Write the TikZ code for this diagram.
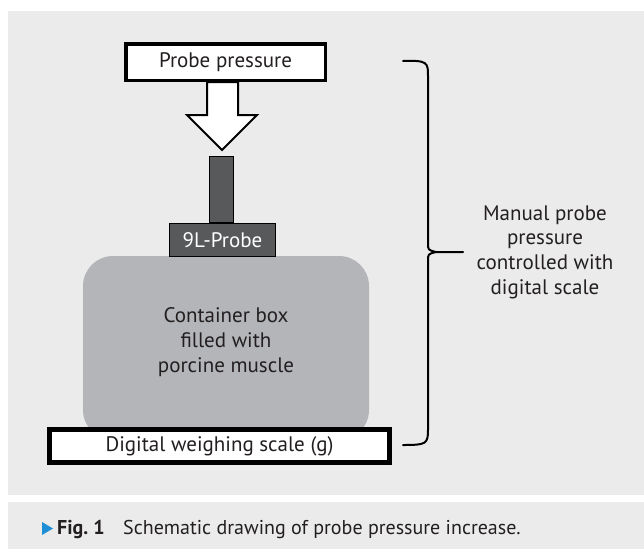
\documentclass[tikz,border=0pt]{standalone}
\usepackage{fontspec}
\setmainfont{PT Sans}
\definecolor{panel}{HTML}{EBEBEB}
\definecolor{cont}{HTML}{B3B5B8}
\definecolor{probecol}{HTML}{58595B}
\definecolor{txt}{HTML}{231F20}
\definecolor{capblue}{HTML}{1E8FD5}
\begin{document}
\begin{tikzpicture}[x=1pt,y=-1pt,
  every node/.style={font=\fontsize{21}{24.7}\selectfont, text=txt, inner sep=0pt},
  whitebox/.style={draw=black, fill=white},
  probebox/.style={draw=black, line width=1pt, fill=probecol},
  brace/.style={draw=black, line width=2pt, line cap=round, line join=round},
  bigarrow/.style={draw=black, fill=white, line width=2pt, line join=miter},
  captext/.style={anchor=base west, font=\fontsize{20}{24}\selectfont}
]
\useasboundingbox (0,0) rectangle (644,549);
\fill[white] (0,0) rectangle (644,549);
\fill[panel] (8,11) rectangle (644,495);
\fill[panel] (8,502) rectangle (644,549);

% container box
\node[rectangle, rounded corners=30pt, fill=cont, minimum width=286pt, minimum height=184pt] (box) at (226,348) {};
\node[align=center] (boxtext) at (226,342) {Container box\\filled with\\porcine muscle};

% scale
\node[whitebox, line width=5pt, minimum width=340pt, minimum height=33pt] (scale) at (219.5,446) {Digital weighing scale (g)};

% probe
\node[probebox, minimum width=24pt, minimum height=66pt] (stick) at (221.5,189.5) {};
\node[probebox, minimum width=106pt, minimum height=33pt, text=white] (head) at (222.5,240) {9L-Probe};

% arrow
\path[bigarrow] (207,82) -- (207,115) -- (187,115) -- (222,150) -- (257,115) -- (238,115) -- (238,82) -- cycle;

% probe pressure box
\node[whitebox, line width=3.5pt, minimum width=199.5pt, minimum height=36.5pt] (pp) at (225.5,62) {Probe pressure};

% brace
\coordinate (btop) at (403,61);
\coordinate (btip) at (463,252);
\coordinate (bbot) at (403,445);
\path[brace] (btop) .. controls (428,60) and (428,63) .. (428,76) -- (428,243)
  .. controls (428,250) .. (436,252) -- (btip);
\path[brace] (436,252) .. controls (428,254) .. (428,261) -- (428,430)
  .. controls (428,444) and (426,445) .. (bbot);
\node[align=center] (manual) at (545,252) {Manual probe\\pressure\\controlled with\\digital scale};

% caption
\fill[capblue] (42,522) -- (53,528.5) -- (42,535) -- cycle;
\node[captext, font=\fontsize{20}{24}\selectfont\bfseries] (fig) at (57,534) {Fig.~1};
\node[captext] (cap) at (123,534) {Schematic drawing of probe pressure increase.};
\end{tikzpicture}
\end{document}
